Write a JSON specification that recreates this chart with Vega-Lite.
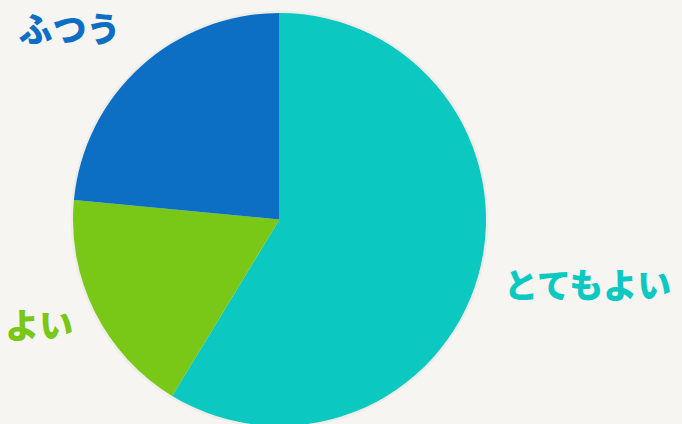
{
  "$schema": "https://vega.github.io/schema/vega-lite/v6.json",
  "autosize": "none",
  "width": 559,
  "height": 409,
  "padding": {"left": 0, "top": 15, "right": 123, "bottom": 0},
  "background": "#F7F5F1",
  "config": {"view": {"stroke": null}},
  "data": {
    "values": [
      {"label": "とてもよい", "value": 58.7, "n": 1},
      {"label": "よい", "value": 17.8, "n": 2},
      {"label": "ふつう", "value": 23.5, "n": 3}
    ]
  },
  "encoding": {
    "theta": {"field": "value", "type": "quantitative", "stack": true},
    "order": {"field": "n", "type": "quantitative"},
    "color": {
      "field": "label",
      "type": "nominal",
      "scale": {"domain": ["とてもよい", "よい", "ふつう"], "range": ["#0BC9C1", "#79C716", "#0D6FC4"]},
      "legend": null
    }
  },
  "layer": [
    {"mark": {"type": "arc", "radius": 209, "color": "#000000", "opacity": 0.03}, "encoding": {"color": {"value": "#000000"}}},
    {"mark": {"type": "arc", "radius": 206.5}},
    {
      "mark": {"type": "text", "radius": 230, "align": "left", "baseline": "middle", "dx": 3, "dy": 6, "font": "Noto Sans CJK JP", "fontWeight": 900, "fontSize": 34},
      "encoding": {"text": {"condition": {"test": "datum.label === 'とてもよい'", "field": "label"}, "value": ""}}
    },
    {
      "mark": {"type": "text", "radius": 234, "align": "right", "baseline": "middle", "dx": 3, "dy": 4, "font": "Noto Sans CJK JP", "fontWeight": 900, "fontSize": 34},
      "encoding": {"text": {"condition": {"test": "datum.label === 'よい'", "field": "label"}, "value": ""}}
    },
    {
      "mark": {"type": "text", "radius": 248, "align": "right", "baseline": "middle", "dx": 8, "dy": -4, "font": "Noto Sans CJK JP", "fontWeight": 900, "fontSize": 34},
      "encoding": {"text": {"condition": {"test": "datum.label === 'ふつう'", "field": "label"}, "value": ""}}
    }
  ]
}
